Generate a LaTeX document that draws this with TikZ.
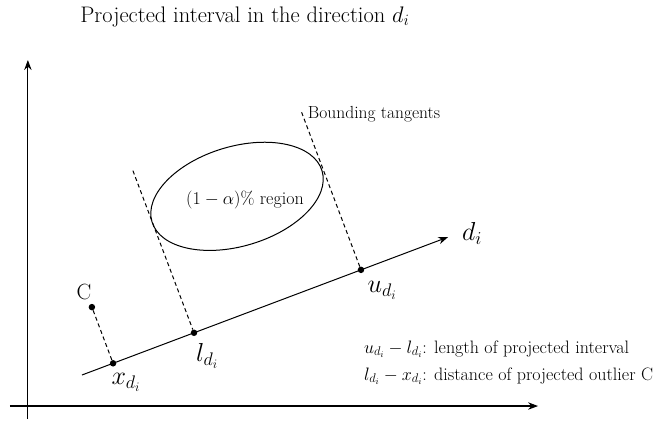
\RequirePackage{fix-cm}
\documentclass[tikz,border=0pt]{standalone}
\usepackage{amsmath}
\usetikzlibrary{arrows.meta,positioning,calc}

\begin{document}
\begin{tikzpicture}[
  dot/.style={circle, fill=black, inner sep=0pt, minimum size=6.5pt},
  arr/.style={-{Stealth[length=3.5mm, width=2.6mm]}, line width=1.1pt},
  proj/.style={dash pattern=on 4pt off 3pt, line width=1pt},
  ptlabel/.style={font=\fontsize{26}{28}\selectfont},
  txt/.style={font=\fontsize{18}{27}\selectfont, align=left},
]
  \useasboundingbox (0,0) rectangle (23.09,14.80);

  % Axes
  \coordinate (xs) at (0.35,0.53);
  \coordinate (xe) at (18.91,0.53);
  \coordinate (ys) at (0.98,0.07);
  \coordinate (ye) at (0.98,12.69);
  \draw[arr] (xs) -- (xe);
  \draw[arr] (ys) -- (ye);

  % Direction
  \coordinate (s) at (2.88,1.62);
  \coordinate (e) at (15.75,6.47);
  \draw[arr, line width=1pt] (s) -- (e);

  % Points on the direction
  \node[dot] (xd) at ($(s)!0.085!(e)$) {};
  \node[dot] (ld) at ($(s)!0.306!(e)$) {};
  \node[dot] (ud) at ($(s)!0.762!(e)$) {};
  \node[dot] (C) at ($(xd)!2.11cm!90:(e)$) {};

  % Tangent ends
  \coordinate (lt) at ($(ld)!6.09cm!90:(e)$);
  \coordinate (ut) at ($(ud)!5.92cm!90:(e)$);

  % Region
  \draw[line width=1pt, rotate around={16.7:(8.33,7.9)}] (8.33,7.9) ellipse (3.12 and 1.75);
  \node[txt] (region) at (8.61,7.76) {$(1-\alpha)\%$ region};

  % Projections
  \draw[proj] (C) -- (xd);
  \draw[proj] (lt) -- (ld);
  \draw[proj] (ut) -- (ud);

  % Labels
  \node[ptlabel] (lC) at (2.95,4.55) {\fontsize{22}{24}\selectfont C};
  \node[ptlabel] (lxd) at (4.43,1.37) {$x_{d_i}$};
  \node[ptlabel] (lld) at (7.28,2.28) {$l_{d_i}$};
  \node[ptlabel] (lud) at (13.43,4.60) {$u_{d_i}$};
  \node[ptlabel] (ldi) at (16.59,6.61) {$d_i$};
  \node[right=0.1cm of ut, yshift=-2pt, font=\fontsize{17.5}{19}\selectfont] (tang) {Bounding tangents};
  \node[anchor=west, font=\fontsize{22.5}{25}\selectfont] (title) at (2.7,14.2) {Projected interval in the direction $d_i$};

  % Legend
  \node[txt, anchor=west] (legend) at (12.67,2.06) {$u_{d_i}-l_{d_i}$: length of projected interval\\
    $l_{d_i}-x_{d_i}$: distance of projected outlier C};
\end{tikzpicture}
\end{document}
